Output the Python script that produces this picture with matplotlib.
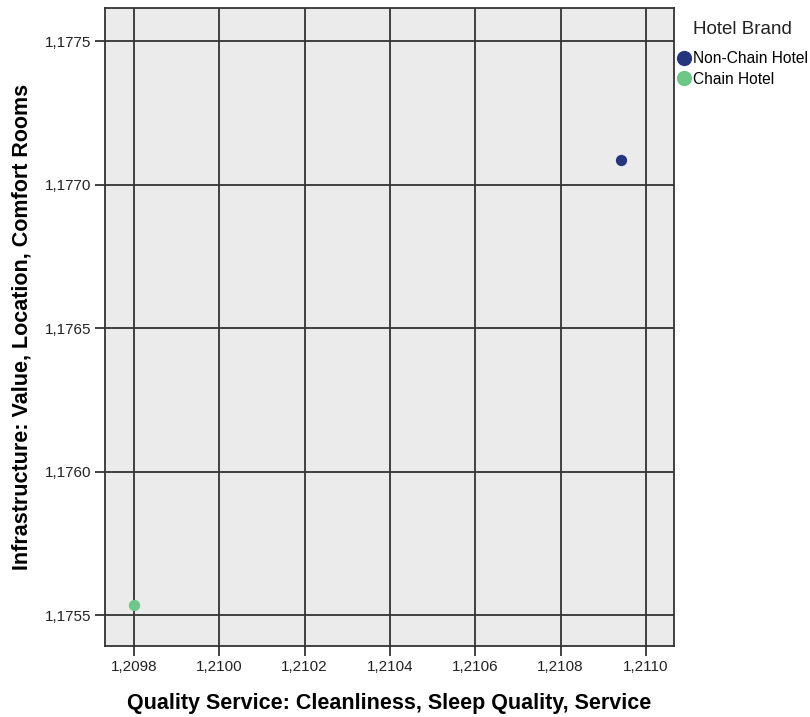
import matplotlib
matplotlib.use("Agg")
import matplotlib.pyplot as plt
from matplotlib.lines import Line2D
from matplotlib.ticker import FuncFormatter

plt.rcParams['font.family'] = ['Liberation Sans', 'DejaVu Sans']

# data
brands = ["Non-Chain Hotel", "Chain Hotel"]
quality_service = [1.210941, 1.209800]
infrastructure = [1.177085, 1.175535]
colors = ["#263580", "#6cc788"]

x_ticks = [1.2098, 1.2100, 1.2102, 1.2104, 1.2106, 1.2108, 1.2110]
y_ticks = [1.1755, 1.1760, 1.1765, 1.1770, 1.1775]

fig = plt.figure(figsize=(8.1, 7.17), dpi=100)
ax = fig.add_axes([105 / 810, 71 / 717, 569 / 810, 638 / 717])
ax.set_facecolor("#ebebeb")

for b, x, y, c in zip(brands, quality_service, infrastructure, colors):
    ax.scatter(x, y, s=66, color=c, zorder=3, linewidths=0)

ax.set_xlim(1.209732, 1.2110656)
ax.set_ylim(1.175392, 1.177615)
ax.set_xticks(x_ticks)
ax.set_yticks(y_ticks)

comma = FuncFormatter(lambda v, p: f"{v:.4f}".replace(".", ","))
ax.xaxis.set_major_formatter(comma)
ax.yaxis.set_major_formatter(comma)

ax.grid(True, color="#333333", linewidth=1.3, zorder=1)
ax.set_axisbelow(True)
for s in ax.spines.values():
    s.set_color("#333333")
    s.set_linewidth(1.3)
ax.tick_params(direction="out", length=7, width=1.3, color="#333333",
               labelsize=11, labelcolor="#222222", pad=3)

ax.set_xlabel("Quality Service: Cleanliness, Sleep Quality, Service",
              fontsize=15.5, fontweight="bold", labelpad=14)
ax.set_ylabel("Infrastructure: Value, Location, Comfort Rooms",
              fontsize=15.5, fontweight="bold", labelpad=9)

# legend: title as separate text, entries below it
fig.text(693 / 810, 1 - 30 / 717, "Hotel Brand", fontsize=13.5,
         va="center", ha="left", color="#222222")
handles = [Line2D([], [], marker="o", linestyle="", markersize=11,
                  markerfacecolor=c, markeredgewidth=0) for c in colors]
fig.legend(handles, brands, loc="upper left",
           bbox_to_anchor=(677 / 810, 1 - 51 / 717), frameon=False,
           fontsize=11.2, handletextpad=0.1, borderpad=0, borderaxespad=0,
           labelspacing=0.38, handlelength=0.9)

fig.savefig("out.png", dpi=100)
plt.close(fig)
